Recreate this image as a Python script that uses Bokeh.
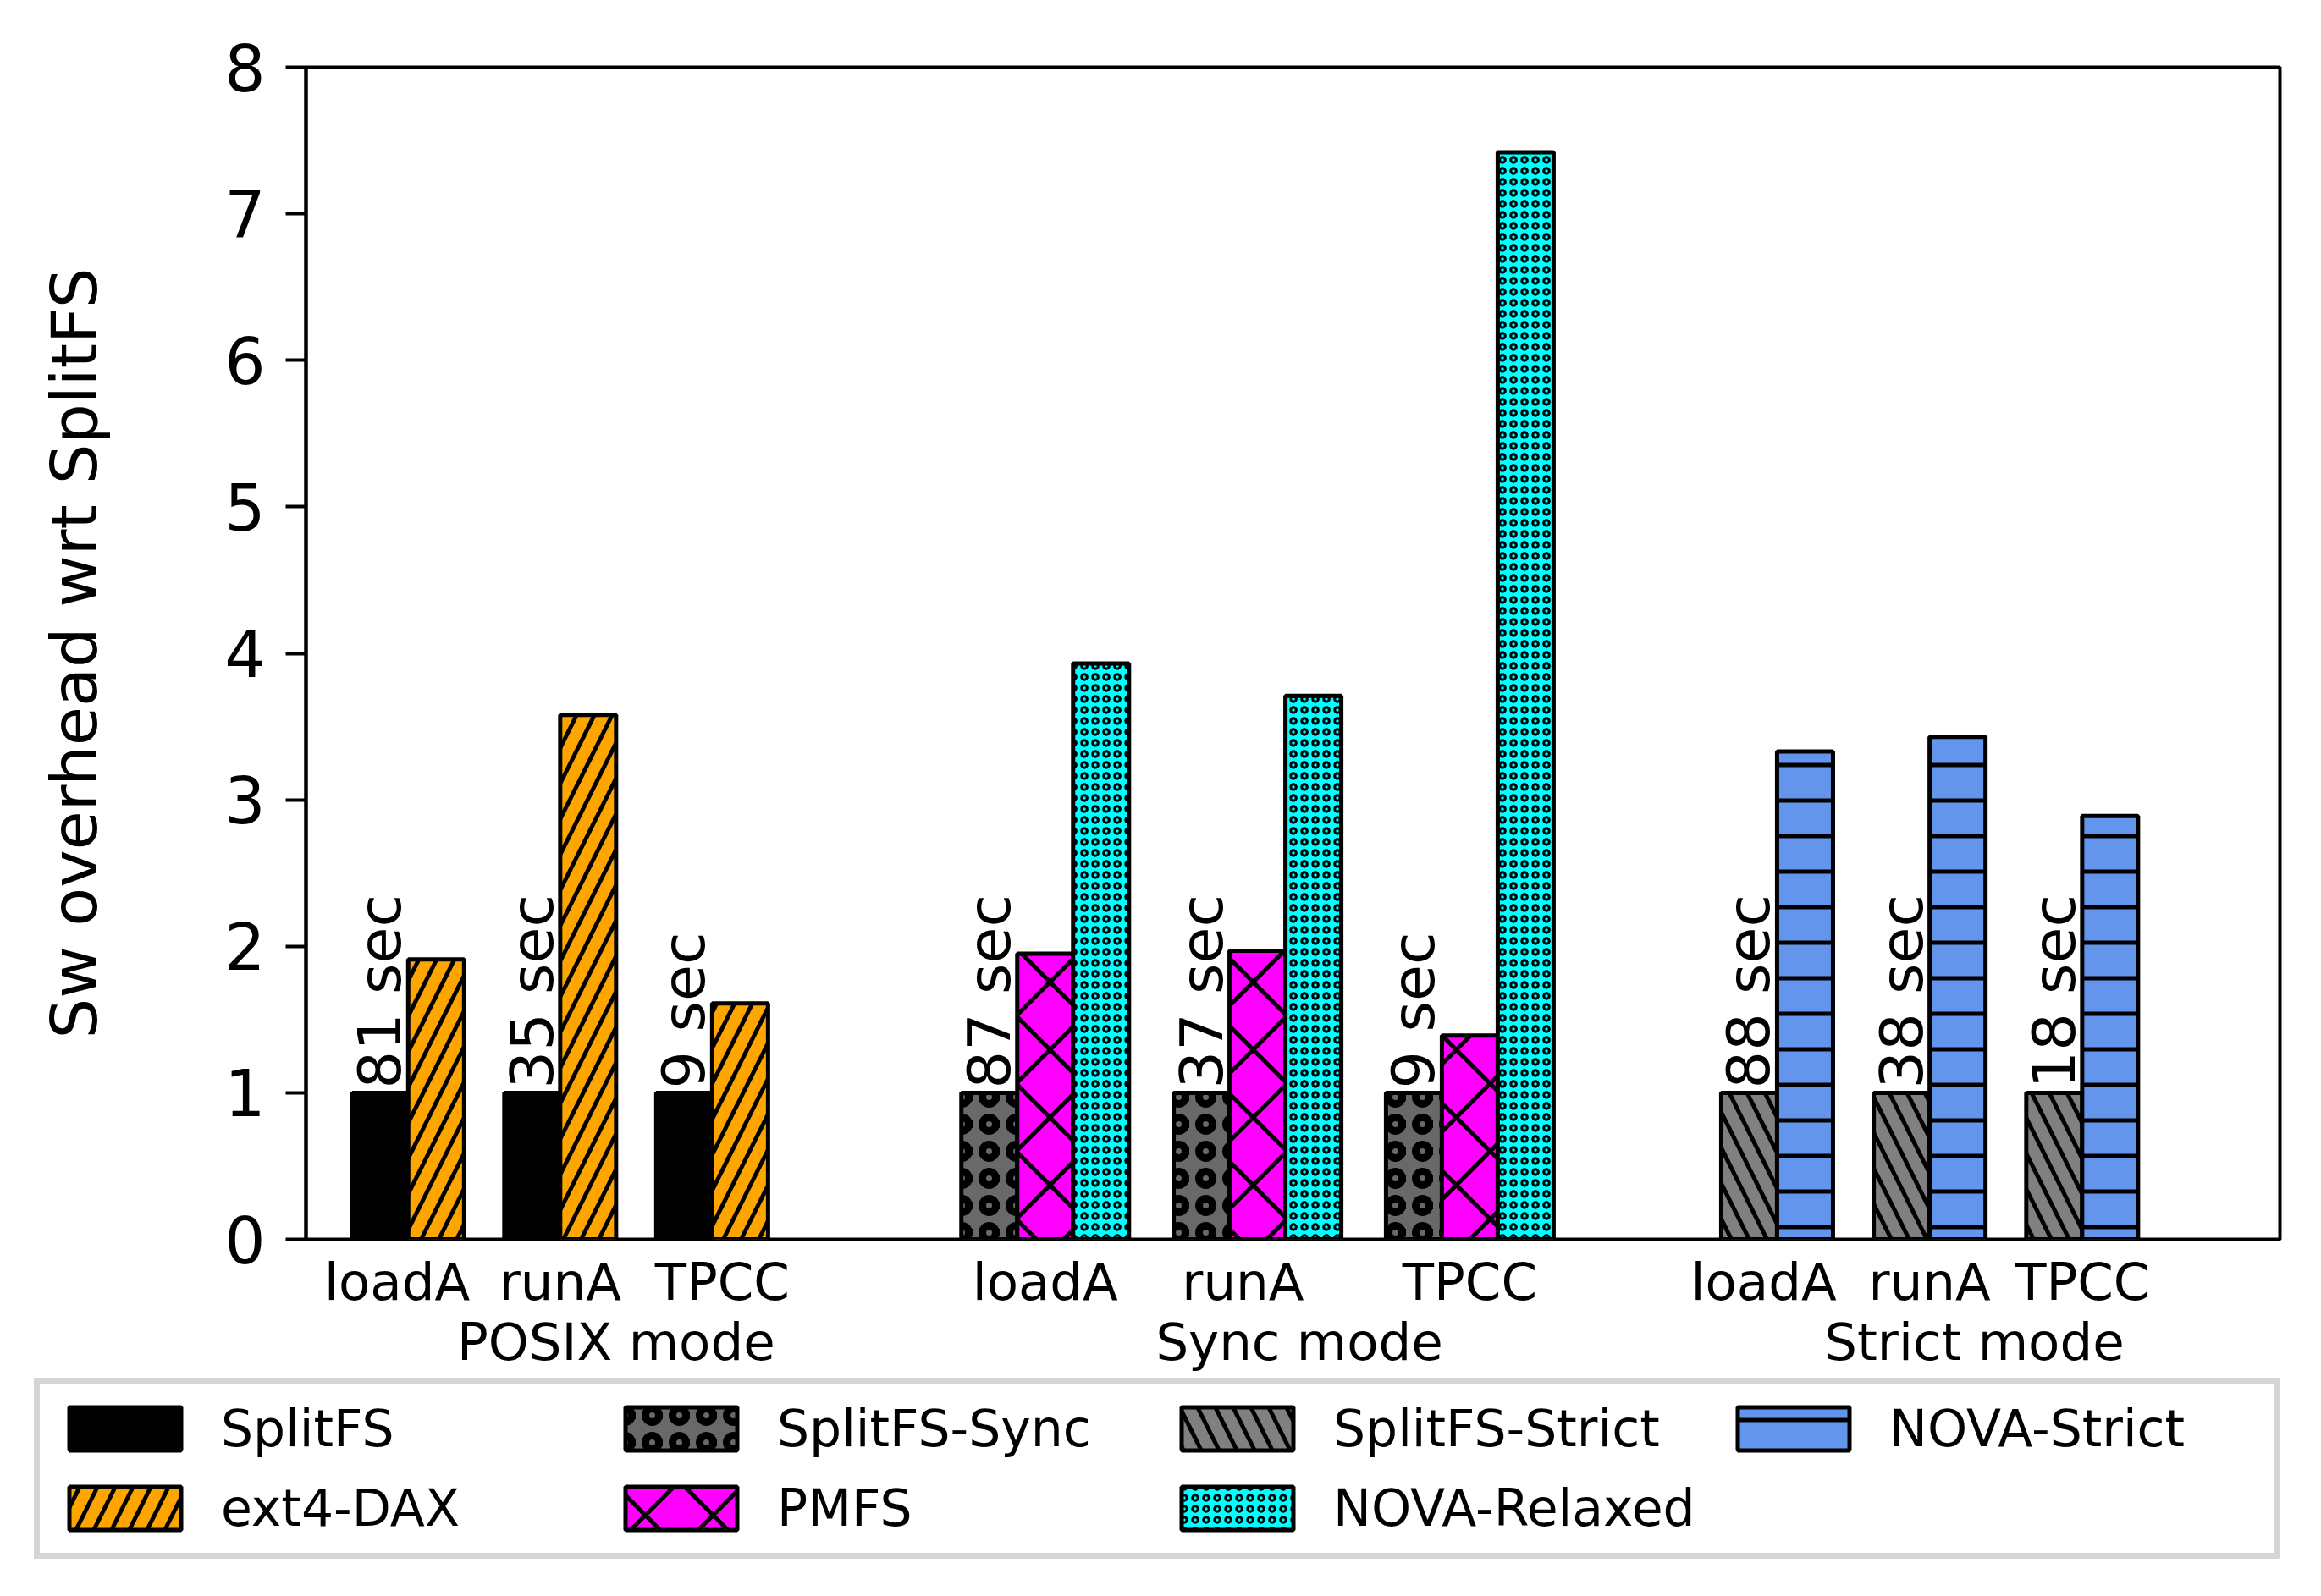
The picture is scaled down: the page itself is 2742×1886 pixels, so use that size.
import numpy as np
from bokeh.plotting import figure
from bokeh.models import (ColumnDataSource, Range1d, FixedTicker, LinearAxis,
                          Legend, LegendItem)
from bokeh.embed import file_html
from bokeh.resources import INLINE
from bokeh.core.properties import value

# ---------------- data ----------------
modes = ["POSIX mode", "Sync mode", "Strict mode"]
workloads = ["loadA", "runA", "TPCC"]

splitfs = [1.0, 1.0, 1.0]
ext4_dax = [1.91, 3.58, 1.61]

splitfs_sync = [1.0, 1.0, 1.0]
pmfs = [1.95, 1.97, 1.39]
nova_relaxed = [3.93, 3.71, 7.42]

splitfs_strict = [1.0, 1.0, 1.0]
nova_strict = [3.33, 3.43, 2.89]

posix_time = ["81 sec", "35 sec", "9 sec"]
sync_time = ["87 sec", "37 sec", "9 sec"]
strict_time = ["88 sec", "38 sec", "18 sec"]

y_ticks = [0, 1, 2, 3, 4, 5, 6, 7, 8]

# ---------------- layout ----------------
FONT = "DejaVu Sans"
W = 2726
MAIN_H = 1628
LEG_H = 250
group_start = [0.83, 11.73, 25.33]
cluster_step = [2.72, 3.80, 2.73]
# small horizontal nudges of the workload / mode labels (in bar widths)
label_shift = [[-0.2, 0.0, 0.18], [0.0, -0.26, 0.0], [-0.24, 0.0, 0.0]]
mode_shift = [1.0, 0.75, 0.8]
group_series = [
    [("SplitFS", splitfs, "#000000", None, 12, 1),
     ("ext4-DAX", ext4_dax, "#FFA500", "/", 42, 5)],
    [("SplitFS-Sync", splitfs_sync, "#696969", "o", 32, 9),
     ("PMFS", pmfs, "#FF00FF", "x", 80, 5),
     ("NOVA-Relaxed", nova_relaxed, "#00FFFF", "o", 13, 3)],
    [("SplitFS-Strict", splitfs_strict, "#808080", "\\", 42, 5),
     ("NOVA-Strict", nova_strict, "#6495ED", "-", 42, 5)],
]
group_times = [posix_time, sync_time, strict_time]


def bar_style(color, hatch, scale, weight):
    kw = dict(fill_color=color, line_color="black", line_width=5)
    if hatch is not None:
        kw.update(hatch_pattern=hatch, hatch_color="black",
                  hatch_scale=scale, hatch_weight=weight)
    return kw


p = figure(width=W, height=MAIN_H, output_backend="svg", toolbar_location=None,
           x_range=Range1d(0, 35.33), y_range=Range1d(0, 8),
           x_axis_type=None,
           min_border_left=361, min_border_right=W - 2693,
           min_border_top=79, min_border_bottom=MAIN_H - 1464)
p.xgrid.visible = False
p.ygrid.visible = False
p.outline_line_color = "black"
p.outline_line_width = 4
p.outline_line_alpha = 1.0
p.background_fill_color = "white"
p.border_fill_color = "white"

tick_pos = []
tick_lab = {}
group_label_pos = []
styles = {}
for g, series in enumerate(group_series):
    n = len(series)
    lefts = [group_start[g] + i * cluster_step[g] for i in range(len(workloads))]
    for k, (name, vals, color, hatch, scale, weight) in enumerate(series):
        xs = [l + k + 0.5 for l in lefts]
        src = ColumnDataSource(dict(x=xs, top=vals))
        styles[name] = bar_style(color, hatch, scale, weight)
        p.vbar(x="x", top="top", width=1.0, bottom=0, source=src, **styles[name])
        if k == 0:
            tsrc = ColumnDataSource(dict(x=xs, y=vals, t=group_times[g]))
            p.text(x="x", y="y", text="t", source=tsrc, angle=np.pi / 2,
                   text_align="left", text_baseline="middle",
                   text_font=value(FONT), text_font_size="70px",
                   text_color="black", y_offset=-5)
    for i, l in enumerate(lefts):
        c = round(l + n / 2.0 + label_shift[g][i], 4)
        tick_pos.append(c)
        tick_lab[c] = workloads[i]
    gc = round((group_start[g] + 2 * cluster_step[g] + n + group_start[g]) / 2.0
               + mode_shift[g], 4)
    group_label_pos.append(gc)

# y axis
p.yaxis.ticker = FixedTicker(ticks=y_ticks)
p.yaxis.axis_label = "Sw overhead wrt SplitFS"
p.yaxis.axis_label_text_font = FONT
p.yaxis.axis_label_text_font_size = "75px"
p.yaxis.axis_label_text_font_style = "normal"
p.yaxis.axis_label_text_color = "black"
p.yaxis.axis_label_standoff = 130
p.yaxis.major_label_text_font = FONT
p.yaxis.major_label_text_font_size = "76px"
p.yaxis.major_label_text_color = "black"
p.yaxis.major_label_standoff = 24
p.yaxis.major_tick_out = 24
p.yaxis.major_tick_in = 0
p.yaxis.major_tick_line_width = 4
p.yaxis.major_tick_line_color = "black"
p.yaxis.minor_tick_out = 0
p.yaxis.minor_tick_in = 0
p.yaxis.axis_line_width = 4
p.yaxis.axis_line_color = "black"

# x axes
xa = LinearAxis(ticker=FixedTicker(ticks=tick_pos), major_label_overrides=tick_lab)
xa.axis_line_color = None
xa.major_tick_line_color = None
xa.minor_tick_line_color = None
xa.major_tick_out = 0
xa.major_label_standoff = 14
xa.major_label_text_font = FONT
xa.major_label_text_font_size = "61px"
xa.major_label_text_color = "black"
p.add_layout(xa, "below")

ga = LinearAxis(ticker=FixedTicker(ticks=group_label_pos),
                major_label_overrides={group_label_pos[i]: modes[i] for i in range(3)})
ga.axis_line_color = None
ga.major_tick_line_color = None
ga.minor_tick_line_color = None
ga.major_tick_out = 0
ga.major_label_standoff = -3
ga.major_label_text_font = FONT
ga.major_label_text_font_size = "61px"
ga.major_label_text_color = "black"
p.add_layout(ga, "below")

# ---------------- legend (own strip below the chart) ----------------
lf = figure(width=W, height=LEG_H, output_backend="svg", toolbar_location=None,
            x_range=Range1d(0, 1), y_range=Range1d(0, 1),
            x_axis_type=None, y_axis_type=None,
            min_border_left=0, min_border_right=0, min_border_top=0, min_border_bottom=0)
lf.xgrid.visible = False
lf.ygrid.visible = False
lf.outline_line_color = None
lf.background_fill_color = "white"
lf.border_fill_color = "white"

order = ["SplitFS", "ext4-DAX", "SplitFS-Sync", "PMFS",
         "SplitFS-Strict", "NOVA-Relaxed", "NOVA-Strict"]
items = []
for nm in order:
    # hidden swatch-only renderer carrying the series style for the legend
    swatch = ColumnDataSource(dict(x=[0.5], top=[1.0]))
    r = lf.vbar(x="x", top="top", width=0.1, bottom=0, source=swatch, **styles[nm])
    r.visible = False
    items.append(LegendItem(label=nm, renderers=[r]))

legend = Legend(items=items, location=(40, 36),
                orientation="vertical", nrows=2, ncols=4)
legend.label_text_font = FONT
legend.label_text_font_size = "60px"
legend.label_text_color = "black"
legend.label_height = 51
legend.label_width = 437
legend.glyph_width = 165
legend.glyph_height = 64
legend.label_standoff = 31
legend.padding = 18
legend.spacing = 24
legend.margin = 0
legend.border_line_color = "#d6d6d6"
legend.border_line_width = 7
legend.border_line_alpha = 1.0
legend.background_fill_color = "white"
legend.background_fill_alpha = 1.0
lf.add_layout(legend)

open("out.html", "w").write(file_html([p, lf], INLINE))
